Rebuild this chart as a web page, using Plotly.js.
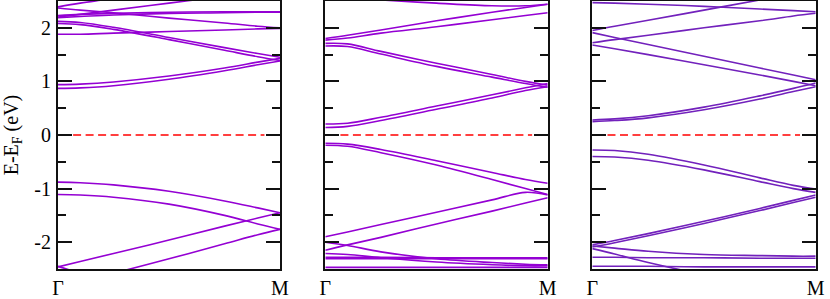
<!DOCTYPE html>
<html>
<head>
<meta charset="utf-8">
<script src="https://cdn.plot.ly/plotly-3.0.1.min.js"></script>
<style>html,body{margin:0;padding:0;background:#fff}#chart{width:830px;height:299px}</style>
</head>
<body>
<div id="chart"></div>
<script>
// k-path positions (fraction of Γ→M)
const k = [0, 0.1, 0.25, 0.5, 0.75, 0.9, 1];
const kLabels = ['Γ', 'M'];
const yTickVals = [-2, -1, 0, 1, 2];
const yTickText = ['-2', '-1', '0', '1', '2'];
const fermi = [0, 0];
const fermiK = [0.068, 0.93];

// Panel 1 bands (eV)
const p1_a = [2.39, 2.46, 2.55, 2.72, 2.88, 2.98, 3.05];
const p1_b = [2.20, 2.25, 2.33, 2.46, 2.59, 2.67, 2.72];
const p1_c = [2.37, 2.33, 2.28, 2.18, 2.09, 2.03, 2.00];
const p1_d = [2.23, 2.25, 2.27, 2.29, 2.30, 2.30, 2.30];
const p1_e = [2.19, 2.21, 2.24, 2.27, 2.28, 2.29, 2.29];
const p1_f = [2.12, 2.10, 2.01, 1.82, 1.63, 1.52, 1.45];
const p1_g = [2.08, 2.06, 1.97, 1.78, 1.58, 1.46, 1.39];
const p1_h = [1.88, 1.88, 1.90, 1.93, 1.96, 1.98, 1.99];
const p1_i = [0.94, 0.95, 0.99, 1.10, 1.25, 1.36, 1.43];
const p1_j = [0.87, 0.88, 0.92, 1.04, 1.20, 1.31, 1.38];
const p1_v1 = [-0.88, -0.89, -0.93, -1.05, -1.23, -1.36, -1.45];
const p1_v2 = [-1.11, -1.12, -1.16, -1.29, -1.50, -1.66, -1.76];
const p1_r1 = [-2.46, -2.36, -2.21, -1.96, -1.70, -1.55, -1.45];
const p1_r2 = [-2.85, -2.74, -2.58, -2.31, -2.03, -1.86, -1.76];
const p1_dn = [-2.45, -2.58, -2.76, -3.08, -3.39, -3.58, -3.70];

// Panel 2 bands (eV)
const p2_q3 = [2.58, 2.56, 2.52, 2.46, 2.41, 2.41, 2.44];
const p2_q1 = [1.80, 1.86, 1.96, 2.13, 2.29, 2.38, 2.44];
const p2_q2 = [1.77, 1.81, 1.90, 2.02, 2.15, 2.23, 2.28];
const p2_d1 = [1.71, 1.70, 1.56, 1.34, 1.13, 1.00, 0.93];
const p2_d2 = [1.66, 1.65, 1.51, 1.28, 1.08, 0.96, 0.89];
const p2_c1 = [0.205, 0.22, 0.33, 0.54, 0.75, 0.88, 0.96];
const p2_c2 = [0.14, 0.16, 0.27, 0.48, 0.69, 0.83, 0.90];
const p2_v1 = [-0.155, -0.17, -0.27, -0.48, -0.70, -0.83, -0.90];
const p2_v2 = [-0.19, -0.21, -0.33, -0.56, -0.83, -1.00, -1.11];
const p2_r1 = [-1.90, -1.81, -1.67, -1.44, -1.21, -1.07, -1.12];
const p2_r2 = [-2.15, -2.05, -1.91, -1.66, -1.42, -1.27, -1.17];
const p2_b1 = [-2.00, -2.06, -2.18, -2.31, -2.38, -2.41, -2.42];
const p2_b2 = [-2.21, -2.23, -2.29, -2.37, -2.42, -2.44, -2.44];
const p2_b3 = [-2.28, -2.28, -2.28, -2.29, -2.29, -2.29, -2.29];
const p2_b4 = [-2.31, -2.31, -2.31, -2.31, -2.31, -2.31, -2.31];
const p2_b5 = [-2.47, -2.47, -2.47, -2.47, -2.47, -2.47, -2.47];

// Panel 3 bands (eV)
const p3_t1 = [1.95, 2.03, 2.14, 2.33, 2.52, 2.63, 2.71];
const p3_t2 = [2.47, 2.46, 2.44, 2.40, 2.35, 2.32, 2.30];
const p3_t3 = [1.72, 1.78, 1.86, 2.00, 2.13, 2.22, 2.27];
const p3_t4 = [1.91, 1.82, 1.69, 1.47, 1.25, 1.12, 1.03];
const p3_t5 = [1.68, 1.61, 1.50, 1.31, 1.12, 1.00, 0.92];
const p3_c1 = [0.28, 0.30, 0.36, 0.52, 0.73, 0.87, 0.97];
const p3_c2 = [0.25, 0.27, 0.32, 0.47, 0.67, 0.81, 0.90];
const p3_v1 = [-0.28, -0.29, -0.36, -0.56, -0.80, -0.94, -1.01];
const p3_v2 = [-0.40, -0.41, -0.47, -0.65, -0.87, -1.00, -1.07];
const p3_r1 = [-2.05, -1.97, -1.84, -1.61, -1.37, -1.22, -1.12];
const p3_r2 = [-2.09, -2.01, -1.88, -1.65, -1.41, -1.26, -1.16];
const p3_b1 = [-2.07, -2.11, -2.17, -2.23, -2.25, -2.26, -2.26];
const p3_b2 = [-2.12, -2.22, -2.38, -2.60, -2.75, -2.82, -2.85];
const p3_b3 = [-2.28, -2.28, -2.29, -2.29, -2.30, -2.30, -2.30];
const p3_b4 = [-2.45, -2.45, -2.45, -2.46, -2.46, -2.46, -2.46];

const panel1 = [p1_a, p1_b, p1_c, p1_d, p1_e, p1_f, p1_g, p1_h, p1_i, p1_j, p1_v1, p1_v2, p1_r1, p1_r2, p1_dn];
const panel2 = [p2_q3, p2_q1, p2_q2, p2_d1, p2_d2, p2_c1, p2_c2, p2_v1, p2_v2, p2_r1, p2_r2, p2_b1, p2_b2, p2_b3, p2_b4, p2_b5];
const panel3 = [p3_t1, p3_t2, p3_t3, p3_t4, p3_t5, p3_c1, p3_c2, p3_v1, p3_v2, p3_r1, p3_r2, p3_b1, p3_b2, p3_b3, p3_b4];

const panels = [
  {bands: panel1, color: '#9400d3', xa: 'x', ya: 'y'},
  {bands: panel2, color: '#9400d3', xa: 'x2', ya: 'y2'},
  {bands: panel3, color: '#7221bc', xa: 'x3', ya: 'y3'}
];

const traces = [];
panels.forEach(p => {
  p.bands.forEach(b => {
    traces.push({x: k, y: b, xaxis: p.xa, yaxis: p.ya, mode: 'lines', type: 'scatter',
      line: {color: p.color, width: 1.6, shape: 'spline', smoothing: 1}, hoverinfo: 'skip'});
  });
  traces.push({x: fermiK, y: fermi, xaxis: p.xa, yaxis: p.ya, mode: 'lines', type: 'scatter',
    line: {color: '#ff0000', width: 1.3, dash: '8px,4.5px'}, hoverinfo: 'skip'});
});

const W = 830, H = 299;
const serif = '"Liberation Serif", "Times New Roman", Times, serif';
function xax(l, r, anchor) {
  return {domain: [l / W, r / W], range: [0, 1], anchor: anchor, showline: true, mirror: true,
    linecolor: '#111', linewidth: 2, showgrid: false, zeroline: false,
    tickmode: 'array', tickvals: [0, 1], ticktext: kLabels, ticks: '',
    tickfont: {family: serif, size: 20, color: '#000'}, fixedrange: true};
}
function yax(anchor, labels) {
  const a = {domain: [1 - 269 / H, 1 - 1 / H], range: [-2.5, 2.5], anchor: anchor,
    showline: true, mirror: 'ticks', linecolor: '#111', linewidth: 2, showgrid: false, zeroline: false,
    tickmode: 'array', tickvals: yTickVals, ticktext: yTickText,
    ticks: 'inside', ticklen: 14, tickwidth: 2, tickcolor: '#111',
    minor: {tickmode: 'array', tickvals: [-1.5, -0.5, 0.5, 1.5], ticks: 'inside', ticklen: 8, tickwidth: 2, tickcolor: '#111'},
    showticklabels: labels, ticklabelstandoff: 1,
    tickfont: {family: serif, size: 20, color: '#000'}, fixedrange: true};
  if (labels) {
    a.title = {text: 'E-E<sub>F</sub> (eV)', font: {family: serif, size: 20, color: '#000'}, standoff: 11};
  }
  return a;
}

const layout = {
  width: W, height: H, margin: {l: 0, r: 0, t: 0, b: 0}, showlegend: false,
  paper_bgcolor: '#fff', plot_bgcolor: '#fff',
  font: {family: serif},
  xaxis: xax(58, 280, 'y'), yaxis: yax('x', true),
  xaxis2: xax(325.3, 547.7, 'y2'), yaxis2: yax('x2', false),
  xaxis3: xax(592.3, 815.7, 'y3'), yaxis3: yax('x3', false)
};

Plotly.newPlot('chart', traces, layout, {staticPlot: true, displayModeBar: false});
</script>
</body>
</html>
